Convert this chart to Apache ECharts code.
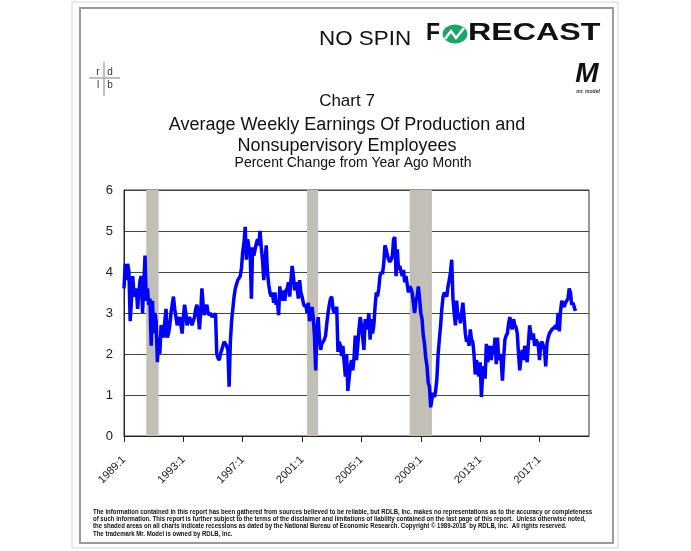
<!DOCTYPE html>
<html><head><meta charset="utf-8">
<script src="https://cdn.jsdelivr.net/npm/echarts@6/dist/echarts.min.js"></script>
<style>html,body{margin:0;padding:0;background:#fff}#c{width:691px;height:551px}</style>
</head><body><div id="c"></div>
<script>
// ---- data ----
const startYear = 1989;
const monthCount = 377; // axis span 1989:1 .. 2020:5
const tickLabels = ["1989:1","1993:1","1997:1","2001:1","2005:1","2009:1","2013:1","2017:1"];
const recessions = [["1990:7","1991:5"],["2001:5","2002:2"],["2008:4","2009:10"]];
const yTicks = [0,1,2,3,4,5,6];
const earnings = [
 3.6,4.2,3.8,4.2,4.0,2.8,3.3,3.9,3.5,3.4,3.6,3.1,
 3.5,3.8,3.9,3.0,3.7,4.4,3.3,3.6,3.2,3.35,2.2,3.3,
 2.5,3.0,2.8,1.8,2.4,2.0,2.7,2.6,2.4,2.8,3.1,2.4,
 2.5,2.7,3.0,3.2,3.4,3.1,2.9,2.7,2.8,2.9,2.7,2.5,
 2.9,3.2,3.0,2.7,2.8,2.9,2.8,2.7,2.7,2.9,3.1,3.2,
 2.95,2.6,3.0,3.6,3.2,2.95,3.1,3.2,3.0,2.95,3.0,2.9,
 2.95,2.9,3.0,2.0,1.9,1.85,2.0,2.1,2.2,2.3,2.3,2.2,
 2.1,1.2,2.3,2.8,3.1,3.4,3.6,3.7,3.8,3.8,3.9,4.1,
 4.5,4.7,5.1,4.3,4.8,4.6,4.5,3.35,4.6,4.4,4.55,4.7,
 4.8,4.65,5.0,4.6,4.3,3.8,4.2,4.65,4.0,3.7,3.5,3.4,
 3.5,3.25,3.5,3.2,3.3,2.95,3.65,3.3,3.4,3.55,3.3,3.55,
 3.6,3.75,3.4,3.8,4.15,3.9,3.55,3.75,3.6,3.35,3.8,3.5,
 3.4,3.25,3.15,3.2,3.0,3.25,2.8,3.0,3.15,2.9,2.45,1.6,
 2.6,2.9,2.4,2.1,2.25,2.3,2.35,2.45,2.75,3.0,3.2,3.35,
 3.4,3.1,3.0,3.0,3.15,2.05,2.3,2.2,1.95,2.2,1.8,1.45,
 2.0,1.1,1.4,1.7,1.85,1.6,1.9,2.45,1.85,2.2,2.6,2.9,
 2.7,2.4,2.1,2.85,2.6,2.75,3.0,2.35,2.85,2.5,2.7,3.15,
 3.5,3.4,3.6,3.9,4.0,3.95,4.2,4.65,4.55,4.4,4.3,4.25,
 4.3,4.4,4.8,4.85,3.9,4.55,4.05,4.15,4.0,3.9,4.05,3.75,
 3.9,3.7,3.5,3.65,3.6,3.5,3.25,3.0,3.3,3.4,3.65,3.35,
 3.0,2.85,2.45,2.25,1.9,1.7,1.3,1.2,0.7,0.9,1.05,0.95,
 1.1,1.4,2.0,2.35,2.7,3.1,3.4,3.5,3.45,3.4,3.65,3.8,
 4.0,4.3,3.35,3.0,2.7,3.3,2.85,3.0,2.75,3.0,3.25,2.9,
 2.5,2.3,2.4,2.2,2.6,2.35,2.3,2.0,1.5,1.85,1.7,1.45,
 1.8,0.95,1.5,1.7,1.4,2.25,1.8,2.0,2.2,1.85,2.2,2.0,
 2.4,1.75,2.4,1.85,2.0,1.85,1.35,1.9,2.35,2.45,2.5,2.75,
 2.9,2.7,2.6,2.85,2.7,2.65,2.5,2.0,1.6,1.9,2.1,1.85,
 2.2,2.0,1.8,2.25,2.7,2.5,2.35,2.5,2.2,2.35,2.3,2.2,
 1.85,2.25,2.3,2.2,2.1,1.7,2.25,2.4,2.5,2.5,2.6,2.6,
 2.65,2.7,2.6,3.0,2.55,3.05,3.3,3.2,3.15,3.25,3.3,3.35,
 3.6,3.5,3.2,3.25,3.15,3.05
];
const titleLines = ["Chart 7","Average Weekly Earnings Of Production and","Nonsupervisory Employees"];
const subtitle = "Percent Change from Year Ago Month";
const footerLines = [
 "The information contained in this report has been gathered from sources believed to be reliable, but RDLB, Inc. makes no representations as to the accuracy or completeness",
 "of such information. This report is further subject to the terms of the disclaimer and limitations of liability contained on the last page of this report.  Unless otherwise noted,",
 "the shaded areas on all charts indicate recessions as dated by the National Bureau of Economic Research. Copyright \u00a9 1989-2018  by RDLB, Inc.  All rights reserved.",
 "The trademark Mr. Model is owned by RDLB, Inc."
];

// ---- build ----
const categories = [];
for (let i = 0; i < monthCount; i++) {
  categories.push((startYear + Math.floor(i / 12)) + ":" + (i % 12 + 1));
}
const isTick = (idx, val) => tickLabels.indexOf(categories[idx]) >= 0;
const FONT = "Liberation Sans, Arial, sans-serif";

const graphics = [
  // frame
  {type:'rect', shape:{x:72,y:2,width:546,height:546}, style:{fill:'none', stroke:'#d6d6d6', lineWidth:1}, silent:true},
  {type:'rect', shape:{x:80,y:8,width:533,height:535}, style:{fill:'none', stroke:'#9a9a9a', lineWidth:2}, silent:true},
  // NO SPIN FORECAST logo
  {type:'text', x:319, y:39, scaleX:1.12, style:{text:'NO SPIN', font:'20px '+FONT, fill:'#111', textVerticalAlign:'middle'}},
  {type:'text', x:426, y:34, style:{text:'F', font:'bold 23px '+FONT, fill:'#111', textVerticalAlign:'middle'}},
  {type:'circle', x:455, y:34, scaleX:1.3, shape:{cx:0,cy:0,r:9.5}, style:{fill:'#1ba56a'}},
  {type:'polyline', shape:{points:[[445,39],[451,31],[456,38],[464,28]]}, style:{stroke:'#fff', lineWidth:2.5, fill:'none'}},
  {type:'text', x:468, y:34, scaleX:1.4, style:{text:'RECAST', font:'bold 23px '+FONT, fill:'#111', textVerticalAlign:'middle'}},
  // rdlb logo
  {type:'line', shape:{x1:89,y1:78,x2:120,y2:78}, style:{stroke:'#aaa', lineWidth:1.5}},
  {type:'line', shape:{x1:104,y1:62,x2:104,y2:96}, style:{stroke:'#aaa', lineWidth:1.5}},
  {type:'text', x:98, y:72, style:{text:'r', font:'10px '+FONT, fill:'#333', textAlign:'center', textVerticalAlign:'middle'}},
  {type:'text', x:110, y:72, style:{text:'d', font:'10px '+FONT, fill:'#333', textAlign:'center', textVerticalAlign:'middle'}},
  {type:'text', x:98, y:85, style:{text:'l', font:'10px '+FONT, fill:'#333', textAlign:'center', textVerticalAlign:'middle'}},
  {type:'text', x:110, y:85, style:{text:'b', font:'10px '+FONT, fill:'#333', textAlign:'center', textVerticalAlign:'middle'}},
  // Mr. Model logo
  {type:'text', x:587, y:74, style:{text:'M', font:'italic bold 28px '+FONT, fill:'#111', textAlign:'center', textVerticalAlign:'middle'}},
  {type:'text', x:588, y:92, style:{text:'mr. model', font:'italic bold 5px '+FONT, fill:'#333', textAlign:'center', textVerticalAlign:'middle'}},
  // titles
  {type:'text', x:347, y:101, style:{text:titleLines[0], font:'17px '+FONT, fill:'#111', textAlign:'center', textVerticalAlign:'middle'}},
  {type:'text', x:347, y:125, style:{text:titleLines[1], font:'18px '+FONT, fill:'#111', textAlign:'center', textVerticalAlign:'middle'}},
  {type:'text', x:347, y:146, style:{text:titleLines[2], font:'18px '+FONT, fill:'#111', textAlign:'center', textVerticalAlign:'middle'}},
  {type:'text', x:353, y:163, style:{text:subtitle, font:'14px '+FONT, fill:'#111', textAlign:'center', textVerticalAlign:'middle'}}
];
footerLines.forEach((t, i) => {
  graphics.push({type:'text', x:93, y:512 + i*7.3, scaleX:0.915,
    style:{text:t, font:'bold 6.6px '+FONT, fill:'#111', textVerticalAlign:'middle'}});
});

const chart = echarts.init(document.getElementById('c'), null, {renderer:'canvas'});
chart.setOption({
  animation:false,
  backgroundColor:'#fff',
  grid:{left:124, right:102, top:190, bottom:115, show:true, borderColor:'#333', borderWidth:1, backgroundColor:'transparent'},
  xAxis:{
    type:'category', data:categories, boundaryGap:false,
    axisLine:{lineStyle:{color:'#222', width:1}},
    axisTick:{interval:isTick, length:6, lineStyle:{color:'#222'}},
    axisLabel:{interval:isTick, rotate:45, margin:22, fontSize:11, color:'#222', fontFamily:FONT},
    splitLine:{show:false}
  },
  yAxis:{
    type:'value', min:yTicks[0], max:yTicks[yTicks.length-1], interval:1,
    axisLine:{show:true, lineStyle:{color:'#222'}},
    axisTick:{show:false},
    axisLabel:{fontSize:13, margin:11, color:'#222', fontFamily:FONT},
    splitLine:{lineStyle:{color:'#444', width:1}}
  },
  series:[{
    type:'line', data:earnings, showSymbol:false, symbol:'none',
    lineStyle:{color:'#0000ff', width:3.5}, z:3,
    markArea:{silent:true, itemStyle:{color:'#c2bfb7'},
      data:recessions.map(r => [{xAxis:r[0]},{xAxis:r[1]}])}
  }],
  graphic:graphics
});
</script>
</body></html>
